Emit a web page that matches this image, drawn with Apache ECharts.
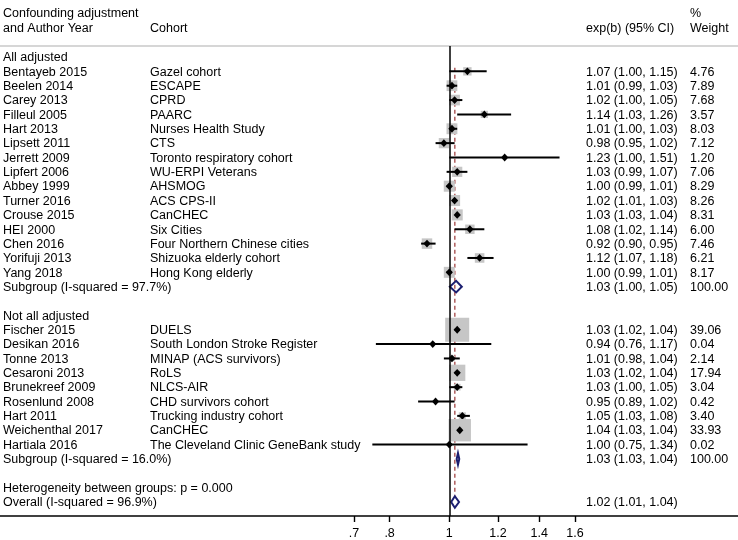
<!DOCTYPE html>
<html><head><meta charset="utf-8">
<script src="https://cdn.jsdelivr.net/npm/echarts@6/dist/echarts.min.js"></script>
<style>html,body{margin:0;padding:0;background:#fff}#c{width:738px;height:540px}</style>
</head><body><div id="c"></div>
<script>
// ---------- data ----------
const group1Title = 'All adjusted';
const group1Authors = ['Bentayeb 2015','Beelen 2014','Carey 2013','Filleul 2005','Hart 2013','Lipsett 2011','Jerrett 2009','Lipfert 2006','Abbey 1999','Turner 2016','Crouse 2015','HEI 2000','Chen 2016','Yorifuji 2013','Yang 2018'];
const group1Cohorts = ['Gazel cohort','ESCAPE','CPRD','PAARC','Nurses Health Study','CTS','Toronto respiratory cohort','WU-ERPI Veterans','AHSMOG','ACS CPS-II','CanCHEC','Six Cities','Four Northern Chinese cities','Shizuoka elderly cohort','Hong Kong elderly'];
const group1Est = [1.07,1.01,1.02,1.14,1.01,0.98,1.23,1.03,1.00,1.02,1.03,1.08,0.92,1.12,1.00];
const group1Lo  = [1.00,0.99,1.00,1.03,1.00,0.95,1.00,0.99,0.99,1.01,1.03,1.02,0.90,1.07,0.99];
const group1Hi  = [1.15,1.03,1.05,1.26,1.03,1.02,1.51,1.07,1.01,1.03,1.04,1.14,0.95,1.18,1.01];
const group1Weight = [4.76,7.89,7.68,3.57,8.03,7.12,1.20,7.06,8.29,8.26,8.31,6.00,7.46,6.21,8.17];
const group1Pooled = {label:'Subgroup (I-squared = 97.7%)', est:1.026, lo:1.002, hi:1.048, weight:100};

const group2Title = 'Not all adjusted';
const group2Authors = ['Fischer 2015','Desikan 2016','Tonne 2013','Cesaroni 2013','Brunekreef 2009','Rosenlund 2008','Hart 2011','Weichenthal 2017','Hartiala 2016'];
const group2Cohorts = ['DUELS','South London Stroke Register','MINAP (ACS survivors)','RoLS','NLCS-AIR','CHD survivors cohort','Trucking industry cohort','CanCHEC','The Cleveland Clinic GeneBank study'];
const group2Est = [1.03,0.94,1.01,1.03,1.03,0.95,1.05,1.04,1.00];
const group2Lo  = [1.02,0.76,0.98,1.02,1.00,0.89,1.03,1.03,0.75];
const group2Hi  = [1.04,1.17,1.04,1.04,1.05,1.02,1.08,1.04,1.34];
const group2Weight = [39.06,0.04,2.14,17.94,3.04,0.42,3.40,33.93,0.02];
const group2Pooled = {label:'Subgroup (I-squared = 16.0%)', est:1.033, lo:1.028, hi:1.038, weight:100};

const heterogeneityText = 'Heterogeneity between groups: p = 0.000';
const overallPooled = {label:'Overall (I-squared = 96.9%)', est:1.021, lo:1.007, hi:1.037};

const tickValues = [0.7,0.8,1,1.2,1.4,1.6];
const tickLabels = ['.7','.8','1','1.2','1.4','1.6'];

const headers = {col1a:'Confounding adjustment', col1b:'and Author Year', col2:'Cohort', col3:'exp(b) (95% CI)', col4a:'%', col4b:'Weight'};

// ---------- build rows ----------
const rows = [];
function addGroup(title, authors, cohorts, est, lo, hi, w, pooled){
  rows.push({c1:title});
  authors.forEach((a,i)=>rows.push({c1:a, c2:cohorts[i], est:est[i], lo:lo[i], hi:hi[i], w:w[i], type:'study'}));
  rows.push({c1:pooled.label, est:pooled.est, lo:pooled.lo, hi:pooled.hi, w:pooled.weight, type:'pool'});
  rows.push({});
}
addGroup(group1Title, group1Authors, group1Cohorts, group1Est, group1Lo, group1Hi, group1Weight, group1Pooled);
addGroup(group2Title, group2Authors, group2Cohorts, group2Est, group2Lo, group2Hi, group2Weight, group2Pooled);
rows.push({c1:heterogeneityText});
rows.push({c1:overallPooled.label, est:overallPooled.est, lo:overallPooled.lo, hi:overallPooled.hi, type:'pool'});

const ln = Math.log;
const studyData = [], poolData = [], textData = [];
rows.forEach((r,i)=>{
  textData.push([0, i]);
  if (r.type==='study') studyData.push([ln(r.est), i, ln(r.lo), ln(r.hi), r.w]);
  if (r.type==='pool') poolData.push([ln(r.est), i, ln(r.lo), ln(r.hi)]);
});
const firstStudyRow = rows.findIndex(r=>r.type==='study');
const overallRow = rows.length-1;

// ---------- layout ----------
const FONT = "'Liberation Sans', Arial, Helvetica, sans-serif";
const FS = 12.5;
const COLX = [3, 150, 586, 690];
const BOX_K = 3.84;
const X_MIN = -1.6796, X_MAX = 1.0793;
const Y_MIN = -0.766, Y_MAX = 31.975;
const NAVY = '#1c1f70';

function fmt(v){ return v.toFixed(2); }

const chart = echarts.init(document.getElementById('c'), null, {renderer:'canvas'});
chart.setOption({
  animation:false,
  backgroundColor:'#fff',
  grid:{left:0, right:0, top:46, bottom:24, containLabel:false},
  xAxis:[{
    type:'value', min:X_MIN, max:X_MAX, position:'bottom',
    splitLine:{show:false},
    axisLine:{show:true, onZero:false, lineStyle:{color:'#000', width:1.5}},
    axisTick:{show:true, customValues:tickValues.map(ln), length:6, lineStyle:{color:'#000', width:1.4}},
    axisLabel:{show:true, customValues:tickValues.map(ln), margin:11, color:'#000', fontFamily:FONT, fontSize:FS,
      formatter:(v)=>{ let k=0,b=1e9; tickValues.forEach((t,i)=>{const d=Math.abs(ln(t)-v); if(d<b){b=d;k=i;}}); return tickLabels[k]; }}
  },{
    type:'value', min:X_MIN, max:X_MAX, position:'top',
    splitLine:{show:false},
    axisLine:{show:true, onZero:false, lineStyle:{color:'#c8c8c8', width:1.5}},
    axisTick:{show:false}, axisLabel:{show:false}
  }],
  yAxis:{type:'value', min:Y_MIN, max:Y_MAX, inverse:true, show:false},
  graphic:[
    {type:'text', left:COLX[0], top:7, style:{text:headers.col1a, font:FS+'px '+FONT, fill:'#000'}},
    {type:'text', left:COLX[0], top:22, style:{text:headers.col1b, font:FS+'px '+FONT, fill:'#000'}},
    {type:'text', left:COLX[1], top:22, style:{text:headers.col2, font:FS+'px '+FONT, fill:'#000'}},
    {type:'text', left:COLX[2], top:22, style:{text:headers.col3, font:FS+'px '+FONT, fill:'#000'}},
    {type:'text', left:COLX[3], top:7, style:{text:headers.col4a, font:FS+'px '+FONT, fill:'#000'}},
    {type:'text', left:COLX[3], top:22, style:{text:headers.col4b, font:FS+'px '+FONT, fill:'#000'}}
  ],
  series:[
    {
      type:'custom', name:'null line', data:[[0, firstStudyRow]], silent:true, z:1,
      renderItem:(p,api)=>({type:'group', children:[]}),
      markLine:{silent:true, symbol:'none', label:{show:false}, animation:false,
        lineStyle:{color:'#000', width:1.5, type:'solid'}, data:[{xAxis:0}]}
    },
    {
      type:'custom', name:'overall line', data:[[ln(overallPooled.est), firstStudyRow, overallRow]], silent:true, z:2,
      renderItem:(p,api)=>{
        const a = api.coord([api.value(0), api.value(1)-0.25]);
        const b = api.coord([api.value(0), api.value(2)-0.45]);
        return {type:'line', shape:{x1:a[0], y1:a[1], x2:b[0], y2:b[1]},
          style:{stroke:'#9a3535', lineWidth:1.2, lineDash:[4,3]}};
      }
    },
    {
      type:'custom', name:'studies', data:studyData, silent:true, z:3,
      renderItem:(p,api)=>{
        const e=api.value(0), r=api.value(1), l=api.value(2), h=api.value(3), w=api.value(4);
        const pe=api.coord([e,r]), pl=api.coord([l,r]), ph=api.coord([h,r]);
        const s=BOX_K*Math.sqrt(w), D=3.6;
        return {type:'group', children:[
          {type:'rect', shape:{x:pe[0]-s/2, y:pe[1]-s/2, width:s, height:s}, style:{fill:'#c6c6c6'}},
          {type:'line', shape:{x1:pl[0], y1:pl[1], x2:ph[0], y2:ph[1]}, style:{stroke:'#000', lineWidth:2}},
          {type:'polygon', shape:{points:[[pe[0]-D,pe[1]],[pe[0],pe[1]-D-0.3],[pe[0]+D,pe[1]],[pe[0],pe[1]+D+0.3]]}, style:{fill:'#000'}}
        ]};
      }
    },
    {
      type:'custom', name:'pooled', data:poolData, silent:true, z:4,
      renderItem:(p,api)=>{
        const e=api.value(0), r=api.value(1), l=api.value(2), h=api.value(3);
        const pe=api.coord([e,r]), pl=api.coord([l,r]), ph=api.coord([h,r]);
        const H=5.8;
        return {type:'polygon', shape:{points:[[pl[0],pe[1]],[pe[0],pe[1]-H],[ph[0],pe[1]],[pe[0],pe[1]+H]]},
          style:{fill:'none', stroke:NAVY, lineWidth:2}};
      }
    },
    {
      type:'custom', name:'text', data:textData, silent:true, z:5,
      renderItem:(p,api)=>{
        const r = rows[p.dataIndex];
        const y = api.coord([0, api.value(1)])[1] + 0.8;
        const kids = [];
        const add=(x,t)=>{ if(t!==undefined && t!=='') kids.push({type:'text', x:x, y:y, style:{text:t, font:FS+'px '+FONT, fill:'#000', textVerticalAlign:'middle', textAlign:'left'}}); };
        add(COLX[0], r.c1);
        add(COLX[1], r.c2);
        if (r.est!==undefined) add(COLX[2], fmt(r.est)+' ('+fmt(r.lo)+', '+fmt(r.hi)+')');
        if (r.w!==undefined) add(COLX[3], fmt(r.w));
        return {type:'group', children:kids};
      }
    }
  ]
});
</script>
</body></html>
